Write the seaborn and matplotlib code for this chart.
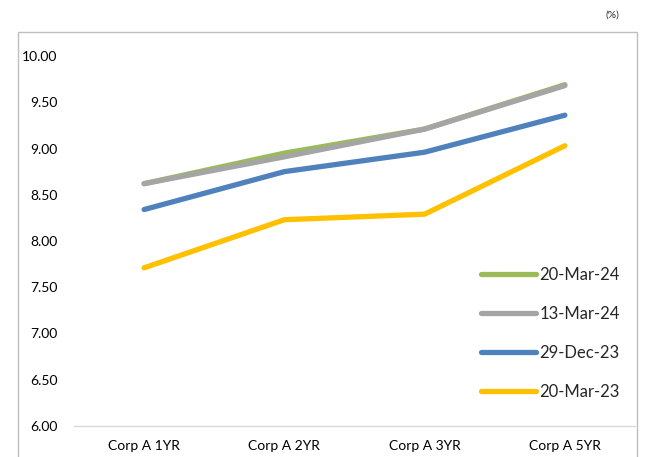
import matplotlib
matplotlib.use("Agg")
import matplotlib.pyplot as plt
import seaborn as sns
import pandas as pd
from matplotlib.patches import Rectangle

categories = ["Corp A 1YR", "Corp A 2YR", "Corp A 3YR", "Corp A 5YR"]
series_names = ["20-Mar-24", "13-Mar-24", "29-Dec-23", "20-Mar-23"]
mar24_20 = [8.62, 8.95, 9.21, 9.69]
mar24_13 = [8.62, 8.91, 9.21, 9.68]
dec23_29 = [8.34, 8.75, 8.96, 9.36]
mar23_20 = [7.71, 8.23, 8.29, 9.03]
yticks = [6.0, 6.5, 7.0, 7.5, 8.0, 8.5, 9.0, 9.5, 10.0]
colors = ["#9BBB59", "#A5A5A5", "#4F81BD", "#FFC000"]

rows = []
for name, vals in zip(series_names, [mar24_20, mar24_13, dec23_29, mar23_20]):
    for i, (c, v) in enumerate(zip(categories, vals)):
        rows.append({"pos": i, "cat": c, "series": name, "value": v})
df = pd.DataFrame(rows)

sns.set_theme(style="white")
plt.rcParams["font.family"] = ["Lato", "DejaVu Sans"]

fig = plt.figure(figsize=(6.45, 4.57), dpi=100)
ax = fig.add_axes([74 / 645, 1 - 426 / 457, (635 - 74) / 645, (426 - 56) / 457])

sns.lineplot(data=df, x="pos", y="value", hue="series", hue_order=series_names,
             palette=colors, linewidth=3.8, ax=ax, sort=False,
             solid_capstyle="round", solid_joinstyle="round")

ax.set_xlim(-0.5, 3.5)
ax.set_ylim(6.0, 10.0)
ax.set_xticks(range(len(categories)))
ax.set_xticklabels(categories, fontsize=10)
ax.set_yticks(yticks)
ax.set_yticklabels([f"{t:.2f}" for t in yticks], fontsize=10)
ax.set_xlabel("")
ax.set_ylabel("")
ax.tick_params(axis="y", length=0, pad=12, colors="#000000")
ax.tick_params(axis="x", length=0, pad=10, colors="#000000")
for s in ["top", "right", "left"]:
    ax.spines[s].set_visible(False)
ax.spines["bottom"].set_color("#D9D9D9")
ax.spines["bottom"].set_linewidth(1.0)
ax.grid(False)

leg = ax.legend(loc="lower right", bbox_to_anchor=(1.0, 0.03), frameon=False,
                fontsize=12, handlelength=3.3, handletextpad=0.2,
                labelspacing=1.38)
for h in leg.get_lines():
    h.set_linewidth(3.8)
    h.set_solid_capstyle("round")

fig.patches.append(Rectangle((18 / 645, -0.01), (637 - 18) / 645, 1 - 32 / 457 + 0.01,
                             transform=fig.transFigure, fill=False,
                             edgecolor="#BFBFBF", linewidth=1.0))
fig.text(612 / 645, 1 - 15 / 457, "(%)", fontsize=7.5, ha="center", va="center")

fig.savefig("out.png", dpi=100)
